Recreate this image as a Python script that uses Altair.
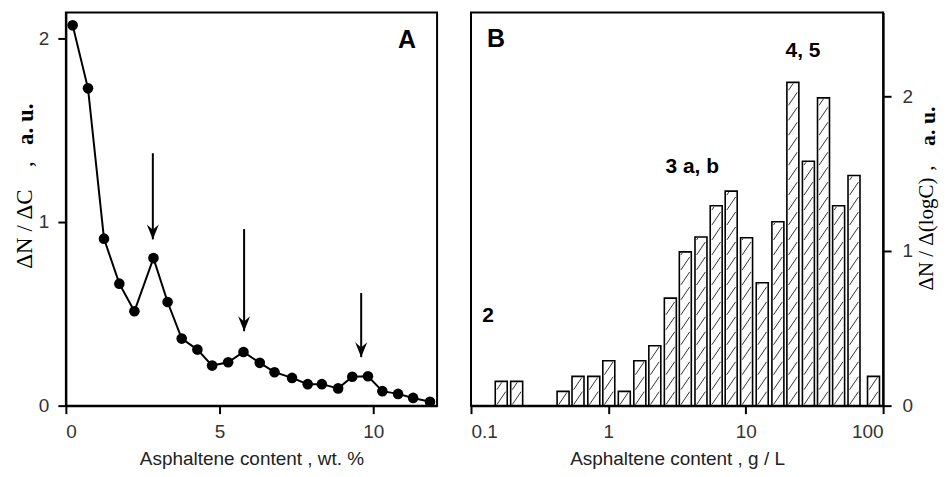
import altair as alt
import pandas as pd
import numpy as np

# ---------------- data: panel A ----------------
a_conc = [0.22, 0.72, 1.24, 1.74, 2.23, 2.85, 3.31, 3.77, 4.28, 4.76, 5.28, 5.78,
          6.31, 6.79, 7.36, 7.87, 8.33, 8.86, 9.32, 9.83, 10.30, 10.81, 11.30, 11.85]
a_val = [2.07, 1.727, 0.909, 0.664, 0.514, 0.803, 0.564, 0.365, 0.305, 0.218, 0.236, 0.292,
         0.233, 0.182, 0.151, 0.117, 0.117, 0.094, 0.157, 0.160, 0.079, 0.064, 0.042, 0.021]
arrow_x = [2.83, 5.80, 9.61]
arrow_top = [1.374, 0.961, 0.613]
arrow_tip = [0.905, 0.405, 0.264]

# ---------------- data: panel B ----------------
b_conc = [0.166, 0.215, 0.468, 0.601, 0.783, 1.007, 1.306, 1.694, 2.178, 2.825, 3.631, 4.721,
          6.095, 7.834, 10.14, 13.18, 17.14, 22.03, 28.58, 36.81, 47.42, 61.38, 85.11]
b_val = [0.157, 0.157, 0.092, 0.189, 0.189, 0.290, 0.092, 0.290, 0.387, 0.695, 0.994, 1.090,
         1.292, 1.387, 1.086, 0.795, 1.189, 2.090, 1.580, 1.990, 1.292, 1.488, 0.189]

SANS = "Liberation Sans"
SERIF = "Liberation Serif"

W_A, W_B, H = 372, 413, 394
A_XMAX, A_YMAX = 12.08, 2.14
B_YMAX = 2.542
B_DEC_PX = W_B / 3.0
B_UNIT_PX = H / B_YMAX
BAR_PX = 12.0
half_dec = BAR_PX / 2 / B_DEC_PX
inset_dec = (BAR_PX / 2 - 1.6) / B_DEC_PX

df_a = pd.DataFrame({"c": a_conc, "v": a_val})
df_arrow = pd.DataFrame({"x": arrow_x, "y0": arrow_top, "y1": arrow_tip})

df_b = pd.DataFrame({"c": b_conc, "v": b_val})
df_b["lo"] = df_b["c"] * 10 ** (-half_dec)
df_b["hi"] = df_b["c"] * 10 ** (half_dec)
df_b["z"] = 0.0

# hatch segments derived from the bars
step = 15.0 / B_UNIT_PX
rise = 13.0 / B_UNIT_PX
rows = []
for c, v in zip(b_conc, b_val):
    l0 = np.log10(c) - inset_dec
    l1 = np.log10(c) + inset_dec
    y0 = 1.0 / B_UNIT_PX
    while y0 < v - 2.0 / B_UNIT_PX:
        y1 = y0 + rise
        r1 = l1
        if y1 > v - 1.0 / B_UNIT_PX:
            y1t = v - 1.0 / B_UNIT_PX
            r1 = l0 + (l1 - l0) * (y1t - y0) / rise
            y1 = y1t
        rows.append({"hx1": 10 ** l0, "hx2": 10 ** r1, "hy1": y0, "hy2": y1})
        y0 += step
df_h = pd.DataFrame(rows)

one = pd.DataFrame({"k": [0]})

# ---------------- panel A ----------------
xa = alt.X("c:Q", scale=alt.Scale(domain=[0, A_XMAX], nice=False, zero=False),
           axis=alt.Axis(values=[0, 5, 10], format="d", title="Asphaltene  content   ,  wt. %",
                         titlePadding=8))
ya = alt.Y("v:Q", scale=alt.Scale(domain=[0, A_YMAX], nice=False),
           axis=alt.Axis(values=[0, 1, 2], format="d", title=None, labelPadding=9))

a_line = alt.Chart(df_a).mark_line(color="black", strokeWidth=2).encode(x=xa, y=ya)
a_pts = alt.Chart(df_a).mark_circle(color="black", size=113, opacity=1).encode(x="c:Q", y="v:Q")
a_rule = alt.Chart(df_arrow).mark_rule(color="black", strokeWidth=2).encode(
    x="x:Q", y="y0:Q", y2="y1:Q")
a_head = alt.Chart(df_arrow).mark_point(
    shape="M0,0 L-0.8,-2 L0,-1.3 L0.8,-2 Z", filled=True, color="black", opacity=1, size=225
).encode(x="x:Q", y="y1:Q")

a_lab = alt.Chart(pd.DataFrame({"x": [11.1], "y": [1.99], "t": ["A"]})).mark_text(
    font=SANS, fontSize=25, fontWeight="bold", color="black").encode(x="x:Q", y="y:Q", text="t:N")

a_t1 = alt.Chart(one).mark_text(font=SERIF, fontSize=23, angle=270, color="black").encode(
    x=alt.value(-41), y=alt.value(228 - 11), text=alt.value("ΔN / ΔC"))
a_t2 = alt.Chart(one).mark_text(font=SERIF, fontSize=23, angle=270, color="black").encode(
    x=alt.value(-41), y=alt.value(163 - 11), text=alt.value(","))
a_t3 = alt.Chart(one).mark_text(font=SERIF, fontSize=23, fontWeight="bold", angle=270,
                                color="black").encode(
    x=alt.value(-40), y=alt.value(123 - 11), text=alt.value("a.  u."))

panel_a = alt.layer(a_line, a_pts, a_rule, a_head, a_lab, a_t1, a_t2, a_t3).properties(
    width=W_A, height=H)

# ---------------- panel B ----------------
xb = alt.X("lo:Q", scale=alt.Scale(type="log", domain=[0.1, 100], nice=False),
           axis=alt.Axis(values=[0.1, 1, 10, 100], format="~g",
                         title="Asphaltene  content   ,   g / L", titlePadding=8))
yb = alt.Y("v:Q", scale=alt.Scale(domain=[0, B_YMAX], nice=False),
           axis=alt.Axis(values=[0, 1, 2], format="d", title=None, orient="right", labelPadding=11))

b_bars = alt.Chart(df_b).mark_rect(fill="white", stroke="black", strokeWidth=1.6).encode(
    x=xb, x2="hi:Q", y=yb, y2="z:Q")
b_hatch = alt.Chart(df_h).mark_rule(color="#333333", strokeWidth=1).encode(
    x="hx1:Q", x2="hx2:Q", y="hy1:Q", y2="hy2:Q")

b_text = pd.DataFrame({
    "x": [0.152, 26.1, 4.08, 0.133],
    "y": [2.37, 2.29, 1.54, 0.58],
    "t": ["B", "4, 5", "3 a, b", "2"],
    "s": [25, 21, 21, 21],
})
b_lab = alt.Chart(b_text).mark_text(font=SANS, fontWeight="bold", color="black").encode(
    x="x:Q", y="y:Q", text="t:N", size=alt.Size("s:Q", scale=None, legend=None))

b_t1 = alt.Chart(one).mark_text(font=SERIF, fontSize=21, angle=270, color="black").encode(
    x=alt.value(457), y=alt.value(233 - 11), text=alt.value("ΔN / Δ(logC)"))
b_t2 = alt.Chart(one).mark_text(font=SERIF, fontSize=21, angle=270, color="black").encode(
    x=alt.value(457), y=alt.value(167 - 11), text=alt.value(","))
b_t3 = alt.Chart(one).mark_text(font=SERIF, fontSize=22, fontWeight="bold", angle=270,
                                color="black").encode(
    x=alt.value(458), y=alt.value(125 - 11), text=alt.value("a.  u."))

panel_b = alt.layer(b_bars, b_hatch, b_lab, b_t1, b_t2, b_t3).properties(width=W_B, height=H)

chart = alt.hconcat(panel_a, panel_b, spacing=31).properties(
    padding={"left": 5, "top": 3, "right": 0, "bottom": 2}
).configure_view(
    stroke="black", strokeWidth=2
).configure_axis(
    grid=False,
    domainColor="black", domainWidth=2,
    tickColor="black", tickWidth=2, tickSize=8,
    labelFont=SANS, labelFontSize=19, labelColor="#333333",
    titleFont=SANS, titleFontSize=19, titleFontWeight="normal", titleColor="#222222",
    labelPadding=9,
)

chart.save("out.html", embed_options={"renderer": "svg", "actions": False})
